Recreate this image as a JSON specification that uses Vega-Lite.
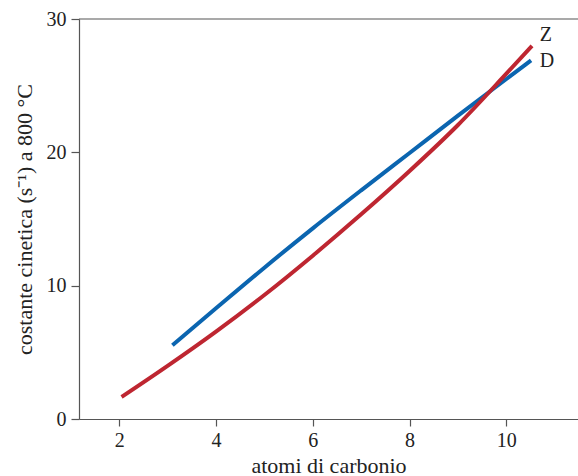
{
  "$schema": "https://vega.github.io/schema/vega-lite/v6.json",
  "width": 499,
  "height": 400,
  "autosize": {"type": "none"},
  "padding": {"left": 79, "top": 19, "right": 0, "bottom": 57},
  "background": "white",
  "config": {
    "view": {"stroke": null},
    "font": "Liberation Serif",
    "axis": {
      "labelFont": "Liberation Serif",
      "titleFont": "Liberation Serif",
      "labelFontSize": 20,
      "titleFontSize": 22,
      "titleFontWeight": "normal",
      "labelColor": "#222222",
      "titleColor": "#222222",
      "grid": false
    }
  },
  "datasets": {
    "curves": [
      {"x": 3.10, "k": 5.53, "serie": "D"},
      {"x": 4.0, "k": 8.3, "serie": "D"},
      {"x": 5.0, "k": 11.35, "serie": "D"},
      {"x": 6.0, "k": 14.3, "serie": "D"},
      {"x": 7.0, "k": 17.15, "serie": "D"},
      {"x": 8.0, "k": 19.95, "serie": "D"},
      {"x": 9.0, "k": 22.75, "serie": "D"},
      {"x": 10.0, "k": 25.5, "serie": "D"},
      {"x": 10.51, "k": 26.9, "serie": "D"},
      {"x": 2.05, "k": 1.65, "serie": "Z"},
      {"x": 3.0, "k": 3.98, "serie": "Z"},
      {"x": 4.0, "k": 6.55, "serie": "Z"},
      {"x": 5.0, "k": 9.3, "serie": "Z"},
      {"x": 6.0, "k": 12.25, "serie": "Z"},
      {"x": 7.0, "k": 15.35, "serie": "Z"},
      {"x": 8.0, "k": 18.6, "serie": "Z"},
      {"x": 9.0, "k": 22.05, "serie": "Z"},
      {"x": 10.0, "k": 25.9, "serie": "Z"},
      {"x": 10.53, "k": 27.98, "serie": "Z"}
    ],
    "labels": [
      {"x": 10.69, "k": 28.77, "serie": "Z"},
      {"x": 10.69, "k": 26.85, "serie": "D"}
    ],
    "top": [
      {"k": 30}
    ]
  },
  "layer": [
    {
      "data": {"name": "curves"},
      "mark": {"type": "line", "strokeWidth": 4, "interpolate": "monotone", "strokeCap": "butt", "clip": false},
      "encoding": {
        "x": {
          "field": "x", "type": "quantitative",
          "scale": {"domain": [1.17, 11.48], "nice": false, "zero": false},
          "axis": {
            "values": [2, 4, 6, 8, 10], "tickSize": 7, "labelPadding": 4,
            "title": "atomi di carbonio", "titlePadding": 5,
            "grid": false, "domainColor": "#555555", "tickColor": "#555555", "domainWidth": 1.2, "tickWidth": 1.2,
            "labelFont": "Liberation Serif", "labelFontSize": 20, "labelColor": "#222222",
            "titleFont": "Liberation Serif", "titleFontSize": 22, "titleFontWeight": "normal", "titleColor": "#222222"
          }
        },
        "y": {
          "field": "k", "type": "quantitative",
          "scale": {"domain": [0, 30], "nice": false},
          "axis": {
            "values": [0, 10, 20, 30], "tickSize": 8, "labelPadding": 5,
            "title": "costante cinetica (s⁻¹) a 800 °C", "titlePadding": 10,
            "grid": false, "domainColor": "#555555", "tickColor": "#555555", "domainWidth": 1.2, "tickWidth": 1.2,
            "labelFont": "Liberation Serif", "labelFontSize": 20, "labelColor": "#222222",
            "titleFont": "Liberation Serif", "titleFontSize": 22, "titleFontWeight": "normal", "titleColor": "#222222"
          }
        },
        "color": {
          "field": "serie", "type": "nominal",
          "scale": {"domain": ["D", "Z"], "range": ["#0b65b0", "#be2631"]},
          "legend": null
        },
        "order": {"field": "x"}
      }
    },
    {
      "data": {"name": "top"},
      "mark": {"type": "rule", "color": "#555555", "strokeWidth": 1.2},
      "encoding": {
        "y": {
          "field": "k", "type": "quantitative",
          "scale": {"domain": [0, 30], "nice": false},
          "axis": {
            "values": [0, 10, 20, 30], "tickSize": 8, "labelPadding": 5,
            "title": "costante cinetica (s⁻¹) a 800 °C", "titlePadding": 10,
            "grid": false, "domainColor": "#555555", "tickColor": "#555555", "domainWidth": 1.2, "tickWidth": 1.2,
            "labelFont": "Liberation Serif", "labelFontSize": 20, "labelColor": "#222222",
            "titleFont": "Liberation Serif", "titleFontSize": 22, "titleFontWeight": "normal", "titleColor": "#222222"
          }
        }
      }
    },
    {
      "data": {"name": "labels"},
      "mark": {"type": "text", "align": "left", "baseline": "middle", "fontSize": 20, "font": "Liberation Serif", "color": "#222222"},
      "encoding": {
        "x": {
          "field": "x", "type": "quantitative",
          "scale": {"domain": [1.17, 11.48], "nice": false, "zero": false},
          "axis": {
            "values": [2, 4, 6, 8, 10], "tickSize": 7, "labelPadding": 4,
            "title": "atomi di carbonio", "titlePadding": 5,
            "grid": false, "domainColor": "#555555", "tickColor": "#555555", "domainWidth": 1.2, "tickWidth": 1.2,
            "labelFont": "Liberation Serif", "labelFontSize": 20, "labelColor": "#222222",
            "titleFont": "Liberation Serif", "titleFontSize": 22, "titleFontWeight": "normal", "titleColor": "#222222"
          }
        },
        "y": {
          "field": "k", "type": "quantitative",
          "scale": {"domain": [0, 30], "nice": false},
          "axis": {
            "values": [0, 10, 20, 30], "tickSize": 8, "labelPadding": 5,
            "title": "costante cinetica (s⁻¹) a 800 °C", "titlePadding": 10,
            "grid": false, "domainColor": "#555555", "tickColor": "#555555", "domainWidth": 1.2, "tickWidth": 1.2,
            "labelFont": "Liberation Serif", "labelFontSize": 20, "labelColor": "#222222",
            "titleFont": "Liberation Serif", "titleFontSize": 22, "titleFontWeight": "normal", "titleColor": "#222222"
          }
        },
        "text": {"field": "serie"}
      }
    }
  ]
}
